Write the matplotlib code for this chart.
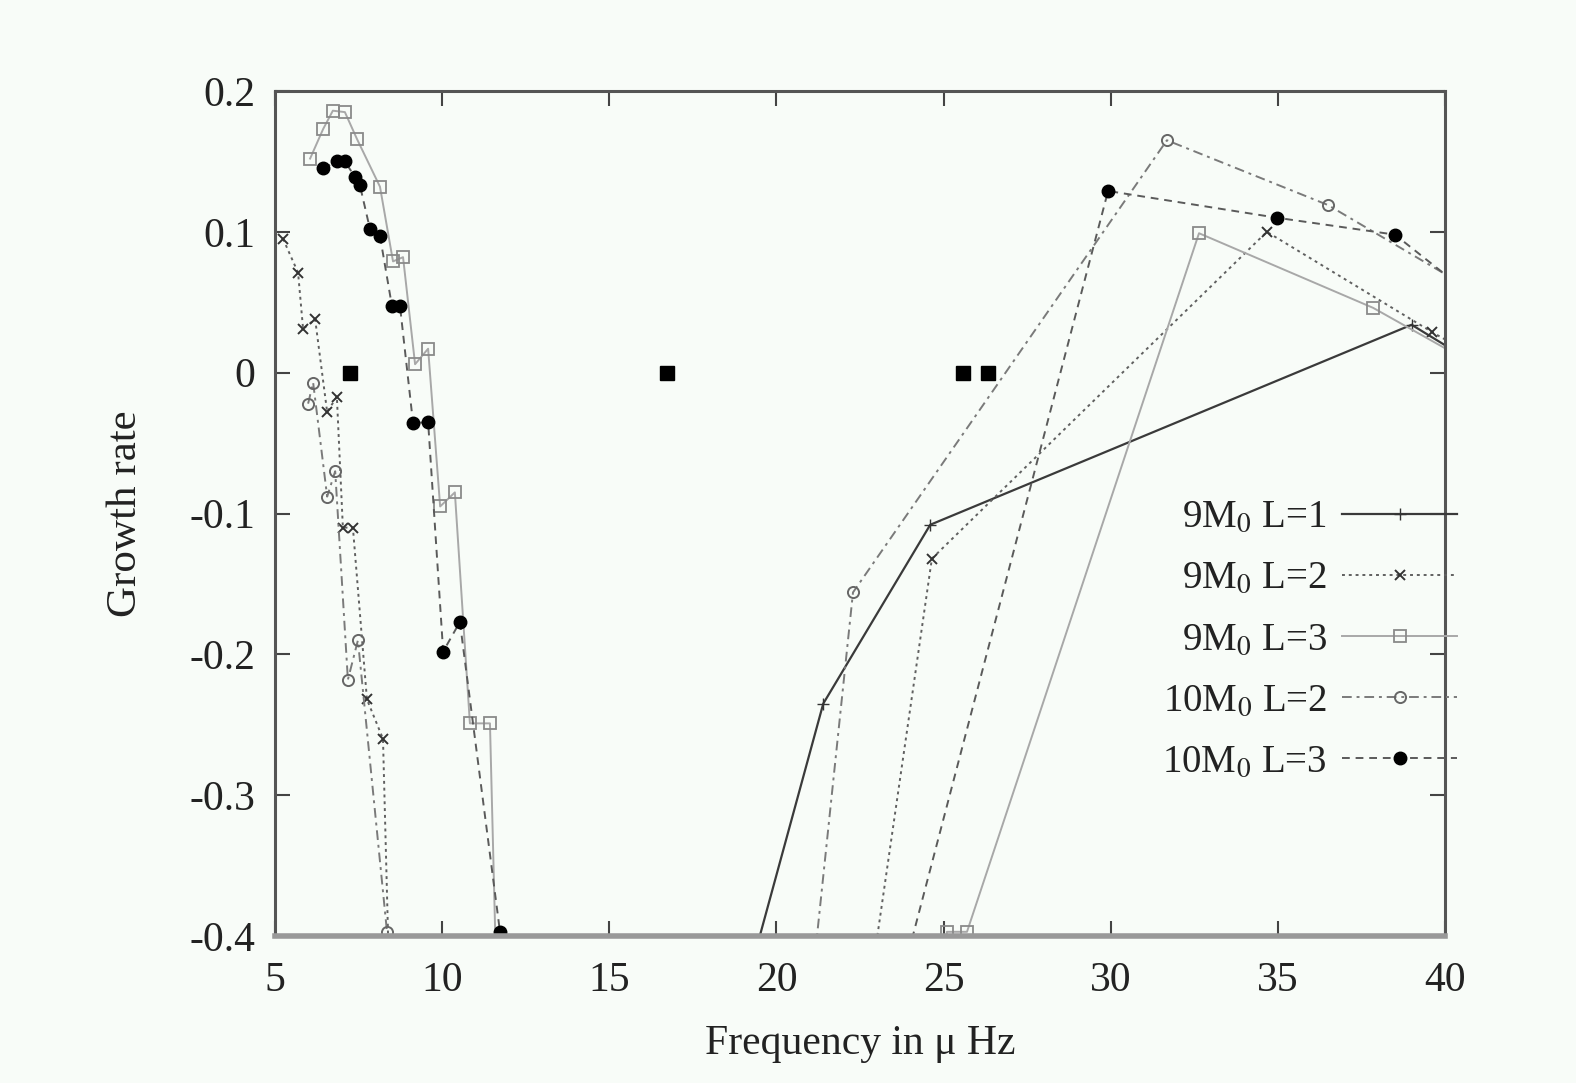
import matplotlib
matplotlib.use("Agg")
import matplotlib.pyplot as plt

plt.rcParams['font.family'] = ['Liberation Serif', 'DejaVu Serif']
plt.rcParams['mathtext.fontset'] = 'stix'

# Growth rate versus frequency (micro-Hz); values beyond the lower limit
# continue the curves off the plotted range.
freq_9m_l1 = [17.2, 21.4, 24.6, 39.0, 41.0]
rate_9m_l1 = [-0.60, -0.235, -0.108, 0.034, 0.005]

freq_9m_l2 = [5.24, 5.69, 5.84, 6.20, 6.56, 6.85, 7.03, 7.33, 7.75, 8.23,
              8.60, 21.8, 24.65, 34.67, 39.6, 41.0]
rate_9m_l2 = [0.095, 0.071, 0.031, 0.038, -0.028, -0.017, -0.110, -0.110,
              -0.232, -0.260, -0.60, -0.60, -0.132, 0.100, 0.029, 0.010]

freq_9m_l3 = [6.05, 6.44, 6.73, 7.09, 7.45, 8.14, 8.53, 8.83, 9.19, 9.58,
              9.94, 10.38, 10.83, 11.43, 11.80, 24.6, 25.10, 25.70, 32.64,
              37.85, 41.0]
rate_9m_l3 = [0.152, 0.173, 0.186, 0.185, 0.166, 0.132, 0.079, 0.082, 0.006,
              0.017, -0.095, -0.085, -0.249, -0.249, -0.60, -0.60, -0.397,
              -0.397, 0.099, 0.046, 0.004]

freq_10m_l2 = [5.99, 6.14, 6.56, 6.80, 7.18, 7.48, 8.35, 8.60, 20.33, 22.29,
               31.68, 36.50, 41.0]
rate_10m_l2 = [-0.022, -0.007, -0.088, -0.070, -0.218, -0.190, -0.397,
               -0.60, -0.60, -0.156, 0.165, 0.119, 0.056]

freq_10m_l3 = [6.44, 6.85, 7.09, 7.39, 7.54, 7.84, 8.14, 8.50, 8.74, 9.13,
               9.58, 10.03, 10.53, 11.73, 12.0, 21.87, 29.92, 34.97, 38.50,
               41.0]
rate_10m_l3 = [0.145, 0.150, 0.150, 0.139, 0.133, 0.102, 0.097, 0.047, 0.047,
               -0.036, -0.035, -0.198, -0.177, -0.397, -0.60, -0.60, 0.129,
               0.110, 0.098, 0.051]

# neutral modes
freq_neutral = [7.24, 16.73, 25.58, 26.33]
rate_neutral = [0.0, 0.0, 0.0, 0.0]

labels = ["9M$_0$ L=1", "9M$_0$ L=2", "9M$_0$ L=3", "10M$_0$ L=2", "10M$_0$ L=3"]
x_ticks = [5, 10, 15, 20, 25, 30, 35, 40]
y_ticks = [-0.4, -0.3, -0.2, -0.1, 0, 0.1, 0.2]
y_ticklabels = ["-0.4", "-0.3", "-0.2", "-0.1", "0", "0.1", "0.2"]

bg = '#f8fcf8'
fig = plt.figure(figsize=(15.76, 10.83), dpi=100, facecolor=bg)
ax = fig.add_axes([0.1745, 0.1357, 0.7424, 0.7803], facecolor=bg)

ax.plot(freq_9m_l1, rate_9m_l1, color='#3a3a3a', lw=1.6, ls='-',
        marker='+', ms=9, mec='#333333', label=labels[0])
ax.plot(freq_9m_l2, rate_9m_l2, color='#606060', lw=1.4, ls=(0, (1.5, 2.0)),
        marker='x', ms=7, mec='#333333', mew=1.4, label=labels[1])
ax.plot(freq_9m_l3, rate_9m_l3, color='#a8a8a8', lw=1.4, ls='-',
        marker='s', ms=9, mfc='none', mec='#8a8a8a', mew=1.3, label=labels[2])
ax.plot(freq_10m_l2, rate_10m_l2, color='#7a7a7a', lw=1.4,
        ls=(0, (5, 2.5, 1.5, 2.5)),
        marker='o', ms=8, mfc='none', mec='#666666', mew=1.4, label=labels[3])
ax.plot(freq_10m_l3, rate_10m_l3, color='#5a5a5a', lw=1.4, ls=(0, (4, 3)),
        marker='o', ms=9, mfc='black', mec='black', label=labels[4])
ax.plot(freq_neutral, rate_neutral, ls='none', marker='s', ms=10,
        mfc='black', mec='black')

ax.set_xlim(5, 40)
ax.set_ylim(-0.4, 0.2)
ax.set_xticks(x_ticks)
ax.set_yticks(y_ticks)
ax.set_yticklabels(y_ticklabels)
ax.tick_params(direction='in', length=11, width=1.5, colors='#444444',
               labelcolor='#222222', labelsize=30, top=True, right=True)
ax.tick_params(axis='x', pad=18)
ax.tick_params(axis='y', pad=14)
for side in ['left', 'right', 'top']:
    ax.spines[side].set_color('#555555')
    ax.spines[side].set_linewidth(2.2)
ax.spines['bottom'].set_color('#999999')
ax.spines['bottom'].set_linewidth(4)

ax.set_xlabel("Frequency in μ Hz", fontsize=30, color='#222222', labelpad=18)
ax.set_ylabel("Growth rate", fontsize=31, color='#222222', labelpad=32)

handles, lbls = ax.get_legend_handles_labels()
leg = ax.legend(handles, lbls, loc='center right',
                bbox_to_anchor=(1.0236, 0.3503), frameon=False,
                markerfirst=False, fontsize=28, handlelength=2.96,
                labelspacing=0.62, handletextpad=0.39, borderaxespad=0.0)
for t in leg.get_texts():
    t.set_color('#222222')
    t.set_ha('right')

fig.savefig('out.png', dpi=100, facecolor=bg)
